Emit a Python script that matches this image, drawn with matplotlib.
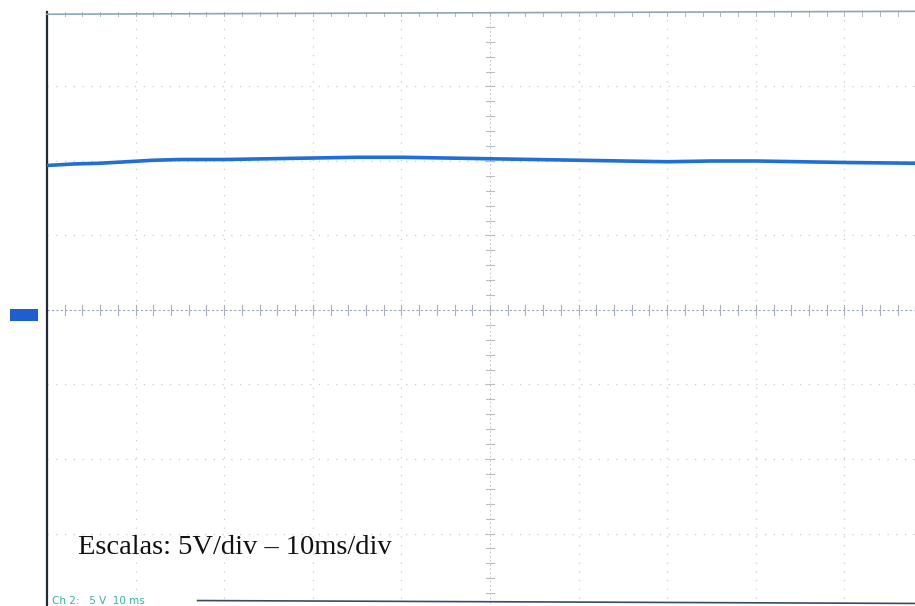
import matplotlib
matplotlib.use("Agg")
import matplotlib.pyplot as plt
from matplotlib.patches import Rectangle

# Data (time in ms, voltage in V)
t_ms = [0.0, 3.0, 6.0, 9.0, 12.0, 15.0, 20.0, 25.0, 30.0, 35.0, 40.0, 45.0, 50.0,
        55.0, 60.0, 65.0, 70.0, 75.0, 80.0, 85.0, 90.0, 98.0]
volts = [9.7, 9.8, 9.85, 9.95, 10.05, 10.1, 10.1, 10.15, 10.2, 10.25, 10.25, 10.2, 10.15,
         10.1, 10.05, 10.0, 9.95, 10.0, 10.0, 9.95, 9.9, 9.85]
scale_text = "Escalas: 5V/div – 10ms/div"
status_text = "Ch 2:   5 V  10 ms"

W, H = 915, 606
fig = plt.figure(figsize=(W / 100, H / 100), dpi=100)
fig.patch.set_facecolor("white")

x0, x1 = 47, 933
y_top, y_bot = 12, 608
ax = fig.add_axes([x0 / W, 1 - y_bot / H, (x1 - x0) / W, (y_bot - y_top) / H])
ax.set_xlim(0, 100)
ax.set_ylim(-20, 20)
ax.set_xticks([])
ax.set_yticks([])
for s in ax.spines.values():
    s.set_visible(False)
ax.set_facecolor("white")

# grid dotted lines
gcol = "#c8ccd0"
for i in range(1, 10):
    if i == 5:
        continue
    ax.plot([i * 10, i * 10], [-20, 20], color=gcol, lw=0.9, ls=(0, (1, 6)), zorder=1)
for j in range(-3, 4):
    if j == 0:
        continue
    ax.plot([0, 100], [j * 5, j * 5], color=gcol, lw=0.9, ls=(0, (1, 6)), zorder=1)

# center cross with minor ticks
ccol = "#b8bec4"
ax.plot([50, 50], [-20, 20], color=ccol, lw=0.6, ls=(0, (2, 3)), zorder=1)
ax.plot([0, 100], [0, 0], color="#9aa6b8", lw=0.8, ls=(0, (2, 2)), zorder=1)
for k in range(0, 41):
    yv = -20 + k * 1.0
    ax.plot([49.6, 50.4], [yv, yv], color=ccol, lw=0.8, zorder=1)
for k in range(0, 51):
    xv = k * 2.0
    ax.plot([xv, xv], [-0.35, 0.35], color="#a8b0c0", lw=0.8, zorder=1)
# top tick marks
for k in range(0, 51):
    xv = k * 2.0
    ax.plot([xv, xv], [19.7, 20], color="#b0b8c0", lw=0.7, zorder=1)

# frame lines
ax.plot([0, 0], [-20, 20], color="#202838", lw=1.6, zorder=3, clip_on=False)
ax.plot([0, 100], [19.85, 20.05], color="#8aa8b4", lw=1.2, zorder=3, clip_on=False)
ax.plot([17, 100], [-19.5, -19.7], color="#3a4a66", lw=1.2, zorder=3, clip_on=False)

# trace
ax.plot(t_ms, volts, color="#1f6fd6", lw=2.6, zorder=4, solid_capstyle="butt")

# scale text
ax.text(3.5, -16.4, scale_text, fontsize=20.5, family="Liberation Serif",
        color="#111111", ha="left", va="baseline", zorder=5)
ax.text(0.6, -19.75, status_text, fontsize=7.5, family="DejaVu Sans",
        color="#39b3a0", ha="left", va="baseline", zorder=5)

# ground marker
fig.patches.append(Rectangle((10 / W, 1 - 321 / H), 28 / W, 12 / H,
                             transform=fig.transFigure, facecolor="#1e5ed0",
                             edgecolor="none", zorder=5))
fig.text(29 / W, 1 - 315 / H, "1", fontsize=6, color="#9ab8f0", ha="center", va="center")

fig.savefig("out.png", dpi=100, facecolor="white")
